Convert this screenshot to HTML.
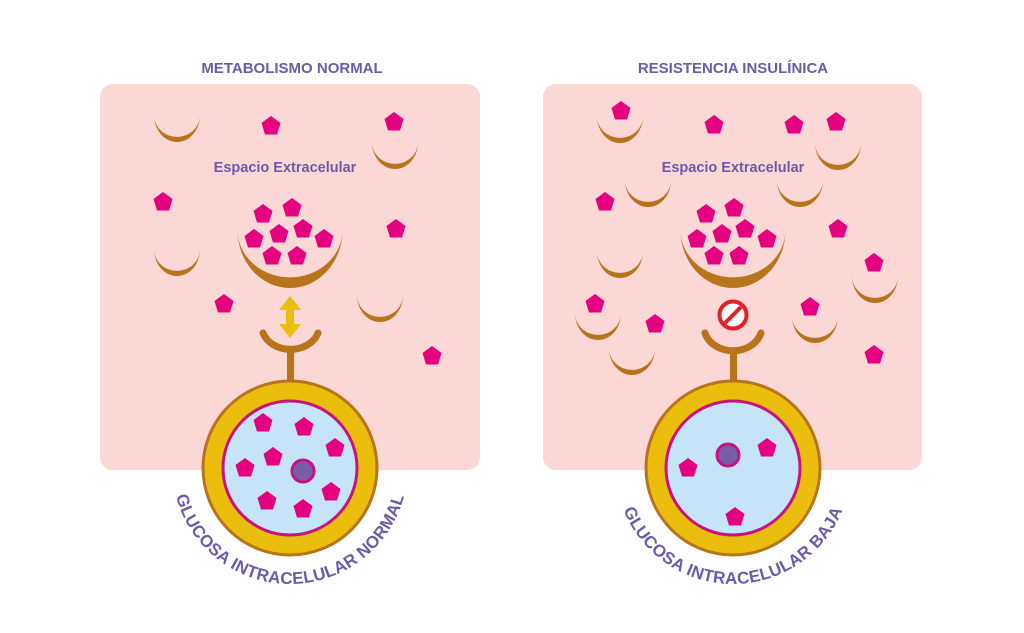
<!DOCTYPE html>
<html><head><meta charset="utf-8"><style>
html,body{margin:0;padding:0;background:#fff;}
svg{display:block;}
text{font-family:"Liberation Sans",sans-serif;fill:#6B5BA8;}
</style></head><body>
<svg width="1024" height="633" viewBox="0 0 1024 633" xmlns="http://www.w3.org/2000/svg">
<defs>
<polygon id="p" points="0,-10 9.5,-3 6,8.5 -6,8.5 -9.5,-3" fill="#E4007F"/>
<path id="c" d="M-23,-3 A23,27 0 0 0 23,-3 A21,20 0 0 1 -23,-3Z" fill="#B8741A"/>
<path id="big" d="M-52.5,0 A52.5,58 0 0 0 52.5,0 A51,46 0 0 1 -52.5,0Z" fill="#B8741A"/>
<path id="tl" d="M-118,0 A118,118 0 0 0 118,0"/>
<path id="tr" d="M-118,0 A118,118 0 0 0 118,0"/>
</defs>
<text x="292" y="73" font-size="15" font-weight="bold" text-anchor="middle">METABOLISMO NORMAL</text>
<text x="733" y="73" font-size="15" font-weight="bold" text-anchor="middle">RESISTENCIA INSULÍNICA</text>
<rect x="100" y="84" width="380" height="386" rx="13" fill="#FBD7D5"/>
<rect x="543" y="84" width="379" height="386" rx="13" fill="#FBD7D5"/>
<text x="285" y="172" font-size="14.5" font-weight="bold" text-anchor="middle">Espacio Extracelular</text>
<text x="733" y="172" font-size="14.5" font-weight="bold" text-anchor="middle">Espacio Extracelular</text>

<!-- LEFT -->
<use href="#c" x="177" y="118"/><use href="#c" x="395" y="145"/>
<use href="#c" x="177" y="252"/><use href="#c" x="380" y="298"/>
<use href="#p" x="271" y="126"/><use href="#p" x="394" y="122"/>
<use href="#p" x="163" y="202"/><use href="#p" x="396" y="229"/>
<use href="#p" x="224" y="304"/><use href="#p" x="432" y="356"/>
<use href="#big" x="290" y="230"/>
<use href="#p" x="263" y="214"/><use href="#p" x="292" y="208"/><use href="#p" x="254" y="239"/><use href="#p" x="279" y="234"/><use href="#p" x="303" y="229"/><use href="#p" x="324" y="239"/><use href="#p" x="272" y="256"/><use href="#p" x="297" y="256"/>
<path d="M290,296 L301,310 L294,310 L294,324 L301,324 L290,338 L279,324 L286,324 L286,310 L279,310Z" fill="#EBBE0E"/>
<path d="M263,333 A29,24 0 0 0 318,333" fill="none" stroke="#B8741A" stroke-width="7" stroke-linecap="round"/>
<rect x="287" y="352" width="7" height="32" fill="#B8741A"/>
<circle cx="290" cy="468" r="87" fill="#EBBE0E" stroke="#B8741A" stroke-width="3"/>
<circle cx="290" cy="468" r="67" fill="#C5E4F7" stroke="#C8127D" stroke-width="3"/>
<circle cx="303" cy="471" r="11" fill="#7A5BA6" stroke="#C8127D" stroke-width="3"/>
<use href="#p" x="263" y="423"/><use href="#p" x="304" y="427"/><use href="#p" x="335" y="448"/><use href="#p" x="273" y="457"/><use href="#p" x="245" y="468"/><use href="#p" x="331" y="492"/><use href="#p" x="267" y="501"/><use href="#p" x="303" y="509"/>
<g transform="translate(290,466)"><text font-size="17" font-weight="bold" letter-spacing="0.3"><textPath href="#tl" startOffset="50%" text-anchor="middle">GLUCOSA INTRACELULAR NORMAL</textPath></text></g>

<!-- RIGHT -->
<use href="#c" x="620" y="119"/><use href="#c" x="838" y="146"/><use href="#c" x="648" y="183"/><use href="#c" x="800" y="183"/>
<use href="#c" x="620" y="254"/><use href="#c" x="875" y="279"/><use href="#c" x="598" y="316"/><use href="#c" x="815" y="319"/><use href="#c" x="632" y="351"/>
<use href="#p" x="621" y="111"/><use href="#p" x="714" y="125"/><use href="#p" x="794" y="125"/><use href="#p" x="836" y="122"/><use href="#p" x="605" y="202"/><use href="#p" x="838" y="229"/><use href="#p" x="874" y="263"/><use href="#p" x="595" y="304"/><use href="#p" x="655" y="324"/><use href="#p" x="810" y="307"/><use href="#p" x="874" y="355"/>
<use href="#big" x="733" y="230"/>
<use href="#p" x="706" y="214"/><use href="#p" x="734" y="208"/><use href="#p" x="697" y="239"/><use href="#p" x="722" y="234"/><use href="#p" x="745" y="229"/><use href="#p" x="767" y="239"/><use href="#p" x="714" y="256"/><use href="#p" x="739" y="256"/>
<circle cx="733" cy="315" r="13.5" fill="#fff" stroke="#E3202A" stroke-width="4"/>
<line x1="725" y1="323" x2="741" y2="307" stroke="#E3202A" stroke-width="4"/>
<path d="M705,333 A29,24 0 0 0 761,333" fill="none" stroke="#B8741A" stroke-width="7" stroke-linecap="round"/>
<rect x="730" y="352" width="7" height="32" fill="#B8741A"/>
<circle cx="733" cy="468" r="87" fill="#EBBE0E" stroke="#B8741A" stroke-width="3"/>
<circle cx="733" cy="468" r="67" fill="#C5E4F7" stroke="#C8127D" stroke-width="3"/>
<circle cx="728" cy="455" r="11" fill="#7A5BA6" stroke="#C8127D" stroke-width="3"/>
<use href="#p" x="688" y="468"/><use href="#p" x="767" y="448"/><use href="#p" x="735" y="517"/>
<g transform="translate(733,466)"><text font-size="17" font-weight="bold" letter-spacing="0.3"><textPath href="#tr" startOffset="50%" text-anchor="middle">GLUCOSA INTRACELULAR BAJA</textPath></text></g>
</svg>
</body></html>
